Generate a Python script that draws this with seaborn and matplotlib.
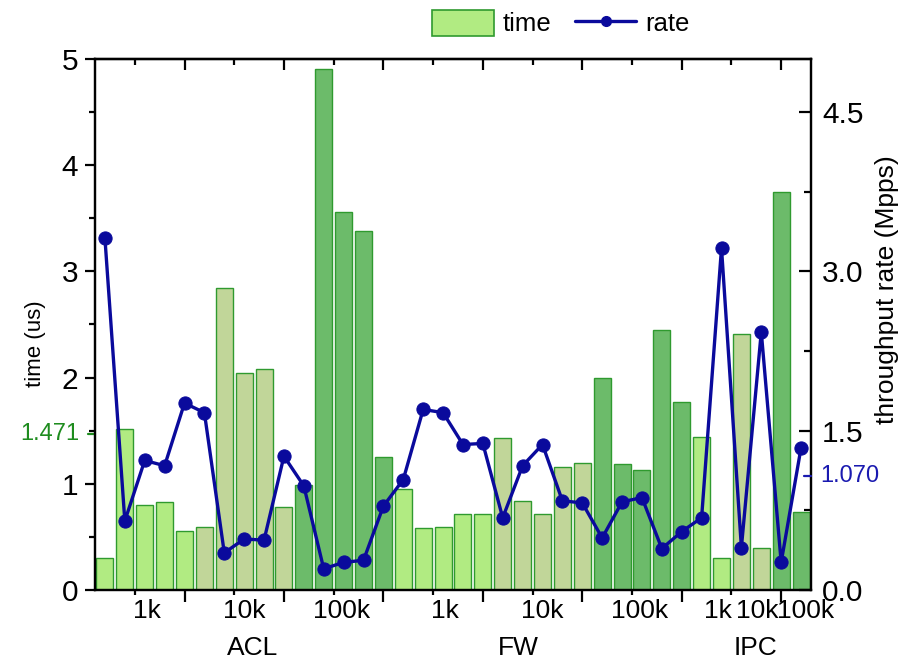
import numpy as np
import pandas as pd
import matplotlib
matplotlib.use("Agg")
import matplotlib.pyplot as plt
import matplotlib.transforms as mtransforms
from matplotlib.patches import Patch
from matplotlib.lines import Line2D
import seaborn as sns

# ---------------- data ----------------
groups = ["ACL", "FW", "IPC"]
group_sizes_per_table = [5, 5, 2]          # bars per table size in each group
table_sizes = ["1k", "10k", "100k"]

time_acl = [0.30, 1.52, 0.80, 0.83, 0.56, 0.59, 2.84, 2.04, 2.08, 0.78, 0.99, 4.91, 3.56, 3.38, 1.25]
time_fw = [0.95, 0.58, 0.59, 0.72, 0.72, 1.43, 0.84, 0.72, 1.16, 1.20, 2.00, 1.19, 1.13, 2.45, 1.77]
time_ipc = [1.44, 0.30, 2.41, 0.40, 3.75, 0.73]

rate_acl = [3.31, 0.65, 1.22, 1.17, 1.76, 1.67, 0.35, 0.48, 0.47, 1.26, 0.98, 0.20, 0.26, 0.28, 0.79]
rate_fw = [1.04, 1.70, 1.67, 1.37, 1.38, 0.68, 1.17, 1.37, 0.84, 0.82, 0.49, 0.83, 0.87, 0.39, 0.55]
rate_ipc = [0.68, 3.22, 0.40, 2.43, 0.26, 1.34]

time_mean_label = "1.471"
time_mean = 1.471
rate_mean_label = "1.070"
rate_mean = 1.070

# ---------------- build table ----------------
rows = []
times = [time_acl, time_fw, time_ipc]
rates = [rate_acl, rate_fw, rate_ipc]
pos = 0
for g, n, tv, rv in zip(groups, group_sizes_per_table, times, rates):
    k = 0
    for s in table_sizes:
        for _ in range(n):
            rows.append(dict(pos=pos, group=g, size=s, time=tv[k], rate=rv[k]))
            pos += 1
            k += 1
df = pd.DataFrame(rows)

# ---------------- style ----------------
sns.set_theme(style="white")
plt.rcParams["font.family"] = ["Liberation Sans", "DejaVu Sans"]
plt.rcParams["text.color"] = "black"
plt.rcParams["xtick.color"] = "black"
plt.rcParams["ytick.color"] = "black"
plt.rcParams["axes.labelcolor"] = "black"

LIGHT = "#b1eb82"
KHAKI = "#c1d699"
DARK = "#6cbb6a"
EDGE = "#2f9a2f"
NAVY = "#0a0a9c"
GREEN_TXT = "#1e8c1e"
BLUE_TXT = "#1a1ab0"
palette = {"1k": LIGHT, "10k": KHAKI, "100k": DARK}

W, H = 910, 663
fig = plt.figure(figsize=(W / 100, H / 100), dpi=100)
L, R, T, B = 95, 811, 59, 590
ax = fig.add_axes([L / W, 1 - B / H, (R - L) / W, (B - T) / H])

sns.barplot(data=df, x="pos", y="time", hue="size", palette=palette, dodge=False,
            width=0.86, saturation=1, edgecolor=EDGE, linewidth=1.0,
            legend=False, ax=ax)

ax2 = ax.twinx()
sns.lineplot(data=df, x="pos", y="rate", ax=ax2, color=NAVY, marker="o",
             markersize=9.5, markeredgecolor=NAVY, linewidth=2.4, legend=False)

ax.set_xlim(-0.5, 35.5)
ax.set_ylim(0, 5)
ax2.set_ylim(0, 5)

for a in (ax, ax2):
    a.grid(False)
    a.set_xlabel("")
    a.set_ylabel("")
    for sp in a.spines.values():
        sp.set_color("black")
        sp.set_linewidth(1.6)

# x ticks (marks only)
ax.set_xticks([4, 9, 14, 19, 24, 29, 34])
ax.set_xticks([1.5, 6.5, 11.5, 16.5, 21.5, 26.5, 31.5], minor=True)
ax.set_xticklabels([])
ax.tick_params(axis="x", which="major", direction="out", length=8.5, width=1.6,
               color="black", bottom=True, labelbottom=False)
ax.tick_params(axis="x", which="minor", direction="out", length=3.8, width=1.6,
               color="black", bottom=True)
top = ax.secondary_xaxis("top")
top.set_xticks([4, 9, 14, 19, 24, 29, 34])
top.set_xticks([1.5, 6.5, 11.5, 16.5, 21.5, 26.5, 31.5], minor=True)
top.set_xticklabels([])
top.tick_params(axis="x", which="major", direction="in", length=8, width=1.6, color="black")
top.tick_params(axis="x", which="minor", direction="in", length=4.5, width=1.6, color="black")
top.spines["top"].set_linewidth(1.6)
top.spines["top"].set_color("black")

# left y ticks
ax.set_yticks([0, 1, 2, 3, 4, 5])
ax.set_yticks(np.arange(0.5, 5, 1.0), minor=True)
ax.set_yticklabels(["0", "1", "2", "3", "4", "5"])
ax.tick_params(axis="y", which="major", direction="out", length=7, width=1.6,
               labelsize=21.5, pad=5, left=True, color="black", labelcolor="black")
ax.tick_params(axis="y", which="minor", direction="out", length=4.5, width=1.6,
               left=True, color="black")

# right y ticks
ax2.set_yticks([0, 1.5, 3.0, 4.5])
ax2.set_yticks([0.75, 2.25, 3.75], minor=True)
ax2.set_yticklabels(["0.0", "1.5", "3.0", "4.5"])
ax2.tick_params(axis="y", which="major", direction="in", length=8.5, width=1.6,
                labelsize=21.5, pad=8, right=True, color="black", labelcolor="black")
ax2.tick_params(axis="y", which="minor", direction="in", length=4.8, width=1.6,
                right=True, color="black")

# x tick labels (size) and group labels
xb = mtransforms.blended_transform_factory(ax.transData, ax.transAxes)
size_label_nudge = {"IPC": [0.3, 0.3, 0.75]}
for g in groups:
    sub = df[df.group == g]
    for j, s in enumerate(table_sizes):
        c = sub[sub["size"] == s]["pos"].mean()
        c += size_label_nudge.get(g, [0.1, 0.0, -0.1])[j]
        ax.text(c, -0.040, s, transform=xb, ha="center", va="center", fontsize=19,
                color="black")
group_label_pos = {"ACL": 7.4, "FW": 20.8, "IPC": 32.7}
for g in groups:
    ax.text(group_label_pos[g], -0.109, g, transform=xb, ha="center", va="center",
            fontsize=19, color="black")

# mean markers
yb = mtransforms.blended_transform_factory(ax.transAxes, ax.transData)
ax.plot([-0.0095, 0.0], [time_mean, time_mean], transform=yb, color=GREEN_TXT,
        lw=1.6, clip_on=False, zorder=5)
ax.text(-0.022, time_mean, time_mean_label, transform=yb, color=GREEN_TXT,
        ha="right", va="center", fontsize=17)
yb2 = mtransforms.blended_transform_factory(ax2.transAxes, ax2.transData)
ax2.plot([0.99, 1.0], [rate_mean, rate_mean], transform=yb2, color=BLUE_TXT,
         lw=1.6, clip_on=False, zorder=5)
ax2.text(1.0126, rate_mean, rate_mean_label, transform=yb2, color=BLUE_TXT,
         ha="left", va="center", fontsize=17)

# axis labels
fig.text(35 / W, 1 - 344 / H, "time (us)", rotation=90, ha="center", va="center",
         fontsize=16, color="black")
fig.text(887 / W, 1 - 290 / H, "throughput rate (Mpps)", rotation=90, ha="center",
         va="center", fontsize=19, color="black")

# legend
handles = [Patch(facecolor=LIGHT, edgecolor=EDGE, linewidth=1.2),
           Line2D([0], [0], color=NAVY, lw=2.4, marker="o", markersize=7)]
leg = fig.legend(handles, ["time", "rate"], loc="center", bbox_to_anchor=(561 / W, 1 - 23 / H),
                 ncol=2, frameon=False, fontsize=18.5, handlelength=2.4, handleheight=1.2,
                 columnspacing=0.9, handletextpad=0.35, borderpad=0.1)
for t in leg.get_texts():
    t.set_color("black")

fig.savefig("out.png", dpi=100)
